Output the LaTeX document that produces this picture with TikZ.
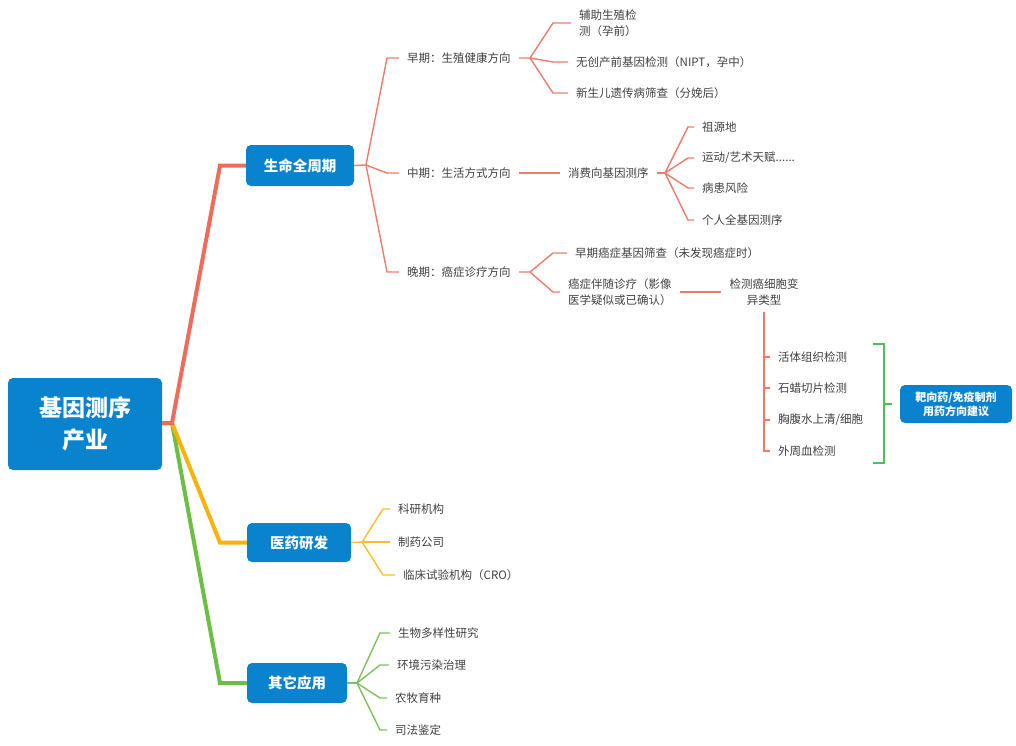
\documentclass[tikz,border=0pt]{standalone}
\usepackage{fontspec}
\setmainfont{Noto Sans CJK SC}
\definecolor{boxblue}{HTML}{0A83CF}
\definecolor{txt}{HTML}{404040}
\definecolor{redT}{HTML}{F06C5A}
\definecolor{redt}{HTML}{EC7C6C}
\definecolor{yelT}{HTML}{F7B30C}
\definecolor{yelt}{HTML}{F5C030}
\definecolor{grnT}{HTML}{6DBE45}
\definecolor{grnt}{HTML}{7DC060}
\definecolor{brk}{HTML}{4CC05E}
\begin{document}
\begin{tikzpicture}[x=1pt,y=-1pt,
  box/.style={fill=boxblue, rounded corners=5pt, text=white, align=center, inner sep=0pt,
    font=\bfseries\fontsize{14.5}{17}\selectfont},
  lbl/.style={anchor=west, text=txt, inner ysep=0pt, inner xsep=8pt, align=left,
    font=\fontsize{11.5}{16}\selectfont},
  thickline/.style={line width=4pt, line join=miter},
  redthin/.style={draw=redt, line width=1.4pt},
  yelthin/.style={draw=yelt, line width=1.4pt},
  grnthin/.style={draw=grnt, line width=1.4pt},
  brkline/.style={draw=brk, line width=1.6pt}
]
\useasboundingbox (0,0) rectangle (1016,745);

% main boxes
\node[box, minimum width=154pt, minimum height=92pt, font=\bfseries\fontsize{23}{32}\selectfont] (root) at (85,424) {基因测序\\产业};
\node[box, minimum width=108pt, minimum height=41pt] (b1) at (300,165.5) {生命全周期};
\node[box, minimum width=104pt, minimum height=39pt] (b2) at (299,542.5) {医药研发};
\node[box, minimum width=100pt, minimum height=40pt] (b3) at (297,683) {其它应用};
\node[box, minimum width=112pt, minimum height=38pt, font=\bfseries\fontsize{11}{14}\selectfont] (rb) at (956,404) {靶向药/免疫制剂\\用药方向建议};

% junctions
\coordinate (j0) at (172,423);
\coordinate (j1) at (366,165);
\coordinate (j11) at (530,58);
\coordinate (j12) at (665,173);
\coordinate (j13) at (530,272);
\coordinate (j2) at (362,542);
\coordinate (j3) at (357,683);
\coordinate (v0) at (764,312);

% thick branches
\draw[thickline, draw=grnT] (root.east |- j0) -- (j0) -- (220,683) -- (b3.west);
\draw[thickline, draw=yelT] (root.east |- j0) -- (j0) -- (220,542.5) -- (b2.west);
\draw[thickline, draw=redT] (root.east |- j0) -- (j0) -- (220,165.5) -- (b1.west);

% level 2 (life cycle)
\node[lbl] (n11) at (399,58) {早期：生殖健康方向};
\node[lbl] (n12) at (399,173) {中期：生活方式方向};
\node[lbl] (n13) at (399,272) {晚期：癌症诊疗方向};
\draw[redthin] (b1.east) -- (j1) -- (387,58) -- (n11.west);
\draw[redthin] (j1) -- (387,173) -- (n12.west);
\draw[redthin] (j1) -- (387,272) -- (n13.west);

% early
\node[lbl] (c111) at (571,23) {辅助生殖检\\测（孕前）};
\node[lbl] (c112) at (568,62) {无创产前基因检测（NIPT，孕中）};
\node[lbl] (c113) at (568,93) {新生儿遗传病筛查（分娩后）};
\draw[redthin] (n11.east) -- (j11) -- (553,23) -- (c111.west);
\draw[redthin] (j11) -- (553,62) -- (c112.west);
\draw[redthin] (j11) -- (553,93) -- (c113.west);

% middle
\node[lbl] (c121) at (560,173) {消费向基因测序};
\draw[redthin] (n12.east) -- (c121.west);
\draw[redthin] (c121.east) -- (j12);
\node[lbl] (d1) at (694,127) {祖源地};
\node[lbl] (d2) at (694,158) {运动/艺术天赋......};
\node[lbl] (d3) at (694,188) {病患风险};
\node[lbl] (d4) at (694,220) {个人全基因测序};
\draw[redthin] (j12) -- (688,127) -- (d1.west);
\draw[redthin] (j12) -- (688,158) -- (d2.west);
\draw[redthin] (j12) -- (688,188) -- (d3.west);
\draw[redthin] (j12) -- (688,220) -- (d4.west);

% late
\node[lbl] (c131) at (567,253) {早期癌症基因筛查（未发现癌症时）};
\node[lbl] (c132) at (560,292) {癌症伴随诊疗（影像\\医学疑似或已确认）};
\draw[redthin] (n13.east) -- (j13) -- (553,253) -- (c131.west);
\draw[redthin] (j13) -- (553,292) -- (c132.west);
\node[lbl, anchor=center, align=center] (c133) at (764,292) {检测癌细胞变\\异类型};
\draw[redthin] (c132.east) -- (c133.west);

\node[lbl] (e1) at (770,357) {活体组织检测};
\node[lbl] (e2) at (770,388) {石蜡切片检测};
\node[lbl] (e3) at (770,420) {胸腹水上清/细胞};
\node[lbl] (e4) at (770,451) {外周血检测};
\draw[redthin] (v0) |- (e4.west);
\draw[redthin] (v0) |- (e1.west);
\draw[redthin] (v0) |- (e2.west);
\draw[redthin] (v0) |- (e3.west);

% bracket
\draw[brkline] (873,344) -- (884,344) -- (884,463) -- (873,463);
\draw[brkline] (884,404) -- ([xshift=-8pt]rb.west);

% pharma
\node[lbl] (f1) at (390,509) {科研机构};
\node[lbl] (f2) at (390,542) {制药公司};
\node[lbl] (f3) at (395,575) {临床试验机构（CRO）};
\draw[yelthin] (b2.east) -- (j2);
\draw[yelthin] (j2) -- (383,509) -- (f1.west);
\draw[yelthin] (j2) -- (f2.west);
\draw[yelthin] (j2) -- (383,575) -- (f3.west);

% others
\node[lbl] (g1) at (390,633) {生物多样性研究};
\node[lbl] (g2) at (389,665) {环境污染治理};
\node[lbl] (g3) at (387,698) {农牧育种};
\node[lbl] (g4) at (387,730) {司法鉴定};
\draw[grnthin] (b3.east) -- (j3);
\draw[grnthin] (j3) -- (380,633) -- (g1.west);
\draw[grnthin] (j3) -- (380,665) -- (g2.west);
\draw[grnthin] (j3) -- (380,698) -- (g3.west);
\draw[grnthin] (j3) -- (380,730) -- (g4.west);
\end{tikzpicture}
\end{document}
